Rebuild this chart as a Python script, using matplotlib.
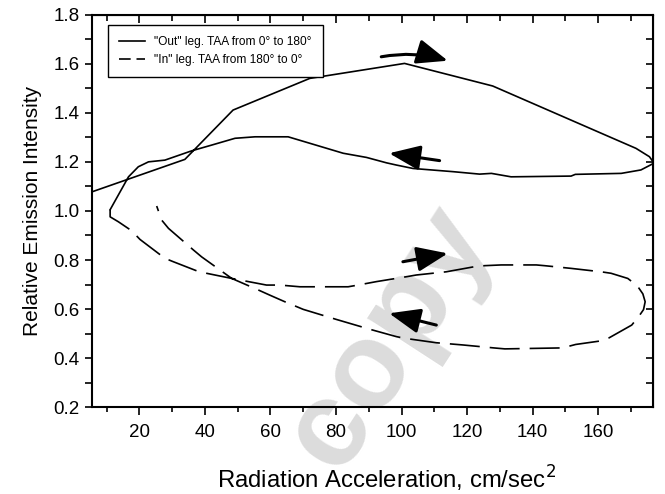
import matplotlib
matplotlib.use("Agg")
import matplotlib.pyplot as plt
from matplotlib.lines import Line2D
from matplotlib.ticker import MultipleLocator, FormatStrFormatter

plt.rcParams['font.family'] = ['Liberation Sans', 'DejaVu Sans']

# "Out" leg (TAA 0 -> 180): radiation acceleration (cm/s^2) and relative intensity
out_x = [5.5, 5.6, 33.9, 48.6, 72.0, 100.9, 127.8, 163.4, 171.5, 175.6, 177.0,
         175.9, 173.0, 167.0, 153.0, 151.7, 133.4, 127.4, 123.8, 115.7, 103.5,
         98.4, 95.4, 89.3, 82.2, 65.4, 55.3, 49.2, 42.0, 36.0, 27.8, 22.8,
         19.7, 16.7, 11.1]
out_y = [1.03, 1.078, 1.21, 1.411, 1.54, 1.601, 1.509, 1.302, 1.255, 1.221, 1.195,
         1.187, 1.167, 1.153, 1.149, 1.142, 1.139, 1.153, 1.150, 1.160, 1.173,
         1.187, 1.196, 1.218, 1.235, 1.302, 1.302, 1.296, 1.268, 1.245, 1.207, 1.20,
         1.18, 1.139, 1.005]

# "In" leg (TAA 180 -> 0)
in_x = [11.1, 11.1, 13.6, 17.7, 20.2, 27.8, 30.4, 37.5, 40.5, 48.2, 58.8, 62.9,
        69.0, 72.0, 83.7, 86.7, 92.3, 101.5, 104.5, 113.6, 122.3, 125.3, 130.4,
        141.1, 143.6, 151.7, 160.9, 163.9, 169.0, 171.9, 173.6, 174.3, 173.8, 172.4, 170.2,
        163.3, 160.5, 153.1, 149.1, 131.5, 128.1, 118.7, 110.6, 101.0, 98.4,
        90.3, 80.1, 70.0, 64.4, 59.8, 56.3, 48.2, 39.0, 36.5, 28.9, 26.8, 25.3]
in_y = [1.005, 0.976, 0.956, 0.919, 0.884, 0.807, 0.793, 0.756, 0.746, 0.725, 0.698, 0.698,
        0.691, 0.691, 0.691, 0.698, 0.712, 0.732, 0.739, 0.752, 0.773, 0.777, 0.780,
        0.780, 0.777, 0.766, 0.752, 0.746, 0.725, 0.695, 0.662, 0.630, 0.598, 0.571, 0.535,
        0.483, 0.470, 0.456, 0.442, 0.438, 0.442, 0.454, 0.463, 0.481, 0.488,
        0.518, 0.558, 0.599, 0.630, 0.657, 0.678, 0.725, 0.813, 0.841, 0.929, 0.963, 1.02]

# direction arrows: (tail_x, tail_y, tip_x, tip_y, curvature)
arrows = [
    (93.8, 1.628, 114.1, 1.612, -0.12),
    (111.6, 1.205, 96.2, 1.235, 0.0),
    (100.4, 0.793, 114.1, 0.827, 0.0),
    (110.6, 0.535, 96.2, 0.583, 0.0),
]

legend_labels = ['"Out" leg. TAA from 0° to 180°', '"In" leg. TAA from 180° to 0°']
x_label = 'Radiation Acceleration, cm/sec$^2$'
y_label = 'Relative Emission Intensity'
watermark = 'copy'
xlim = (5.5, 176.6)
ylim = (0.2, 1.8)

fig = plt.figure(figsize=(6.65, 4.94), dpi=100)
ax = fig.add_axes([0.138, 0.1755, 0.8435, 0.795])

# watermark (behind everything in the axes)
ax.text(0.585, 0.315, watermark, transform=fig.transFigure, fontsize=88,
        fontweight='bold', color='#dcdcdc', rotation=57, ha='center',
        va='center', zorder=0, clip_on=False)

lw = 1.2
ax.plot(out_x, out_y, color='black', lw=lw, solid_joinstyle='round', zorder=3)
ax.plot(in_x, in_y, color='black', lw=lw, dashes=(18, 6), zorder=3)

for tx, ty, hx, hy, rad in arrows:
    ax.annotate('', xy=(hx, hy), xytext=(tx, ty),
                arrowprops=dict(arrowstyle='-|>,head_length=0.95,head_width=0.38',
                                lw=2.2, color='black', mutation_scale=20,
                                shrinkA=0, shrinkB=0,
                                connectionstyle=f'arc3,rad={rad}'),
                zorder=4)

ax.set_xlim(*xlim)
ax.set_ylim(*ylim)
ax.xaxis.set_major_locator(MultipleLocator(20))
ax.xaxis.set_minor_locator(MultipleLocator(10))
ax.yaxis.set_major_locator(MultipleLocator(0.2))
ax.yaxis.set_minor_locator(MultipleLocator(0.1))
ax.yaxis.set_major_formatter(FormatStrFormatter('%.1f'))

for s in ax.spines.values():
    s.set_linewidth(1.5)

ax.tick_params(axis='both', which='both', direction='out', top=False, right=False,
               labelsize=13.5, width=1.2)
ax.tick_params(axis='x', which='major', length=6, pad=6)
ax.tick_params(axis='x', which='minor', length=3.5)
ax.tick_params(axis='y', which='both', length=5, pad=4)

# inward ticks on top and right
axt = ax.secondary_xaxis('top')
axt.xaxis.set_major_locator(MultipleLocator(20))
axt.xaxis.set_minor_locator(MultipleLocator(10))
axt.tick_params(axis='x', which='both', direction='in', labeltop=False, width=1.2)
axt.tick_params(axis='x', which='major', length=6)
axt.tick_params(axis='x', which='minor', length=4)
axr = ax.secondary_yaxis('right')
axr.yaxis.set_major_locator(MultipleLocator(0.2))
axr.yaxis.set_minor_locator(MultipleLocator(0.1))
axr.tick_params(axis='y', which='both', direction='in', labelright=False, length=5, width=1.2)

ax.set_xlabel(x_label, fontsize=17.2)
ax.xaxis.set_label_coords(0.525, -0.143)
ax.set_ylabel(y_label, fontsize=15, labelpad=8)

handles = [Line2D([], [], color='black', lw=lw),
           Line2D([], [], color='black', lw=lw, dashes=(7, 3.5))]
leg = ax.legend(handles, legend_labels, loc='upper left', bbox_to_anchor=(0.0285, 0.9733),
                borderaxespad=0, fontsize=8.6, handlelength=2.2, handletextpad=0.8,
                borderpad=0.9, labelspacing=0.55, fancybox=False, framealpha=1,
                edgecolor='black')
leg.get_frame().set_linewidth(1.0)
leg.set_zorder(5)

fig.savefig('out.png', dpi=100)
